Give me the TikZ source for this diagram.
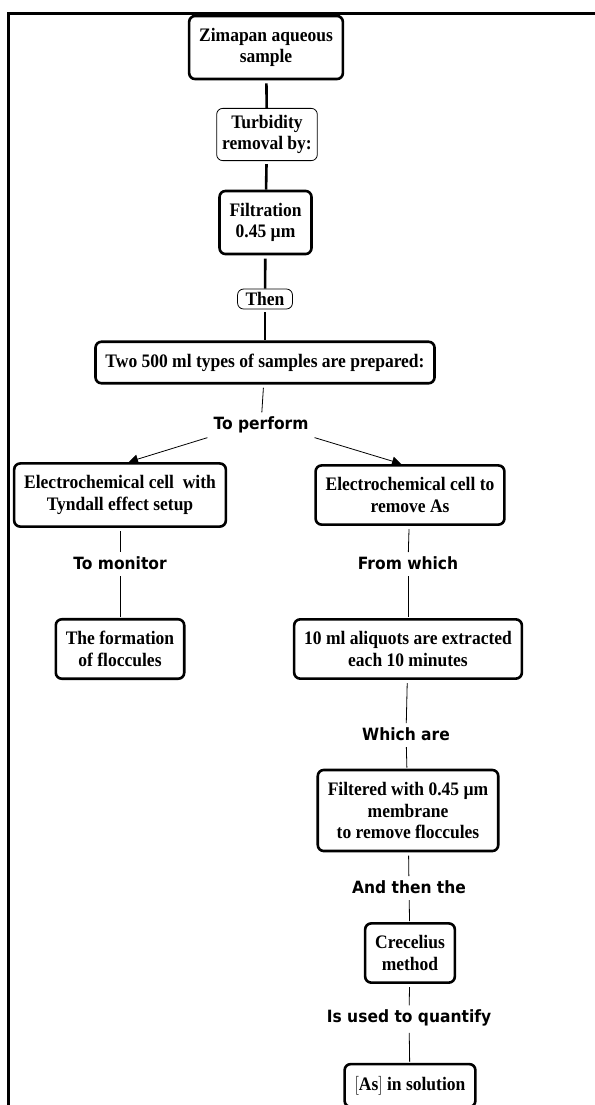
\documentclass[tikz,border=0pt]{standalone}
\usepackage{fontspec}
\setmainfont{Liberation Serif}
\newfontfamily\verbfont{DejaVu Sans}
\usetikzlibrary{arrows.meta}
\tikzset{
  blocco/.style  = {rectangle, draw, line width=2.6pt, rounded corners=6pt, align=center, inner xsep=10pt, inner ysep=11pt, font=\fontsize{17.5}{20}\selectfont\bfseries},
  nota/.style    = {rectangle, draw, line width=0.8pt, rounded corners=6pt, align=center, inner xsep=5.5pt, inner ysep=6pt, font=\fontsize{17.5}{20}\selectfont\bfseries},
  verbo/.style   = {inner sep=3pt, font=\fontsize{15.5}{18}\selectfont\verbfont\bfseries},
  tratto/.style  = {line width=2.6pt, shorten <=3pt},
  filo/.style    = {line width=0.8pt, shorten <=3pt, shorten >=1pt},
  freccia/.style = {filo, -{Triangle[length=9pt,width=9pt]}}
}

\begin{document}
\begin{tikzpicture}[x=1pt, y=-0.9174pt, yscale=1.09, every node/.append style={transform shape}]

  \useasboundingbox (0,0) rectangle (594,1105);
  % ---- cornice ----
  \draw[line width=2.8pt] (8.5,1110) -- (8.5,13.5) -- (600,13.5);

  % ---- tronco centrale ----
  \node[blocco] (zim)  at (266,47.5)  {Zimapan aqueous\\sample};
  \node[nota]   (turb) at (267,134.5) {Turbidity\\removal by:};
  \node[blocco] (filt) at (265.5,222.5) {Filtration\\0.45 µm};
  \node[nota, inner ysep=3pt, inner xsep=8pt] (poi) at (265,299) {Then};
  \node[blocco] (due)  at (265,362.5) {Two 500 ml types of samples are prepared:};
  \draw[tratto] (zim)  -- (turb);
  \draw[tratto] (turb) -- (filt);
  \draw[tratto] (filt) -- (poi);
  \draw[tratto] (poi)  -- (due);

  \node[verbo] (esegui) at (261,425) {To perform};
  \draw[filo] (due) -- (esegui);

  % ---- ramo sinistro ----
  \node[blocco] (tyn)  at (120,495) {Electrochemical cell\ \ with\\Tyndall effect setup};
  \node[verbo]  (mon)  at (120,563) {To monitor};
  \node[blocco] (floc) at (120,649) {The formation\\of floccules};
  \draw[freccia] (esegui.south west) -- ([xshift=8pt]tyn.north);
  \draw[filo] (tyn) -- (mon);
  \draw[filo] (mon) -- (floc);

  % ---- ramo destro ----
  \node[blocco] (rem)   at (410,495)   {Electrochemical cell to\\remove As};
  \node[verbo]  (cui)   at (408,563)   {From which};
  \node[blocco] (aliq)  at (408,649)   {10 ml aliquots are extracted\\each 10 minutes};
  \node[verbo]  (sono)  at (406,734)   {Which are};
  \node[blocco] (filtd) at (408,810.5) {Filtered with 0.45 µm\\membrane\\to remove floccules};
  \node[verbo]  (poi2)  at (409,887)   {And then the};
  \node[blocco] (crec)  at (410,953)   {Crecelius\\method};
  \node[verbo]  (quant) at (409,1018)  {Is used to quantify};
  \node[blocco] (as)    at (410,1085.5)  {$\big[$As$\big]$ in solution};
  \draw[freccia] (esegui.south east) -- ([xshift=-8pt]rem.north);
  \draw[filo] (rem)   -- (cui);
  \draw[filo] (cui)   -- (aliq);
  \draw[filo] (aliq)  -- (sono);
  \draw[filo] (sono)  -- (filtd);
  \draw[filo] (filtd) -- (poi2);
  \draw[filo] (poi2)  -- (crec);
  \draw[filo] (crec)  -- (quant);
  \draw[filo] (quant) -- (as);

\end{tikzpicture}
\end{document}
